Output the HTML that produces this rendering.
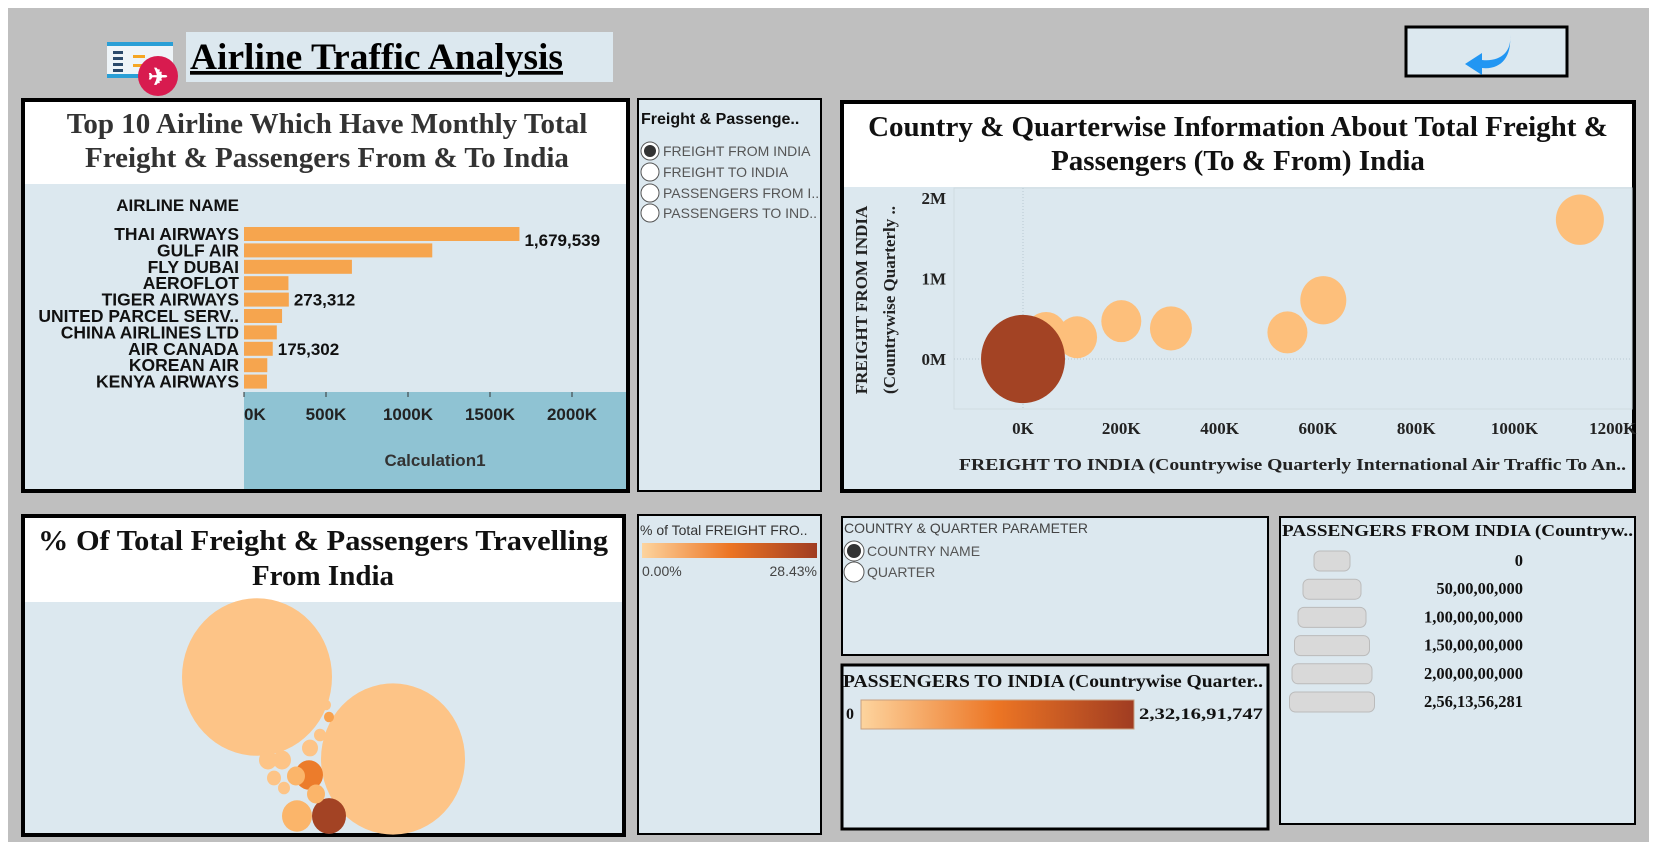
<!DOCTYPE html>
<html><head><meta charset="utf-8"><style>
html,body{margin:0;padding:0;background:#fff;}
svg{display:block;}
text{font-family:"Liberation Sans",sans-serif;}
.serif{font-family:"Liberation Serif",serif;}
</style></head><body>
<svg id="page" width="1657" height="851" viewBox="0 0 1657 851" xmlns="http://www.w3.org/2000/svg">
<rect x="8" y="8" width="1641" height="834" fill="#bfbfbf"/>

<!-- header -->
<g>
<rect x="107" y="42" width="66" height="36" fill="#eef4f8"/>
<rect x="107" y="42" width="66" height="4" fill="#2a9fd6"/>
<rect x="107" y="74" width="66" height="4" fill="#2a9fd6"/>
<rect x="113" y="51" width="10" height="3" fill="#2b4a6b"/><rect x="113" y="57" width="10" height="3" fill="#2b4a6b"/><rect x="113" y="63" width="10" height="3" fill="#2b4a6b"/><rect x="113" y="69" width="10" height="3" fill="#2b4a6b"/>
<rect x="133" y="55" width="12" height="3" fill="#f5a623"/><rect x="133" y="64" width="12" height="3" fill="#f5a623"/>
<circle cx="158" cy="76" r="20" fill="#d81b4f"/>
<text x="158" y="85" text-anchor="middle" font-size="24" fill="#fff" font-weight="bold">✈</text>
</g>
<rect x="186" y="32" width="427" height="50" fill="#dce8ef"/>
<text x="190" y="69" class="serif" font-size="37" font-weight="bold" text-decoration="underline" fill="#000" textLength="373" lengthAdjust="spacingAndGlyphs">Airline Traffic Analysis</text>
<g>
<rect x="1406" y="27" width="161" height="49" fill="#dce8ef" stroke="#000" stroke-width="3"/>
<path d="M1510 35 C1512 52 1500 62 1482 60 L1482 53 L1465 64 L1482 75 L1482 68 C1500 70 1512 58 1510 35 Z" fill="#2196f3"/>
</g>

<!-- Panel 1 -->
<g>
<rect x="23" y="100" width="605" height="391" fill="#dce8ef" stroke="#000" stroke-width="4"/>
<rect x="25" y="102" width="601" height="82" fill="#fff"/>
<text x="327" y="133" text-anchor="middle" class="serif" font-size="29" font-weight="bold" fill="#333">Top 10 Airline Which Have Monthly Total</text>
<text x="327" y="167" text-anchor="middle" class="serif" font-size="29" font-weight="bold" fill="#333">Freight &amp; Passengers From &amp; To India</text>
<rect x="244" y="392" width="382" height="97" fill="#8fc3d3"/>
<text x="239" y="211" text-anchor="end" font-size="17" font-weight="bold" fill="#111">AIRLINE NAME</text>
<text x="435" y="466" text-anchor="middle" font-size="17" font-weight="bold" fill="#333">Calculation1</text>
<g id="bars"></g>
</g>

<!-- Panel 2 filter -->
<g>
<rect x="638" y="99" width="183" height="392" fill="#dce8ef" stroke="#000" stroke-width="2"/>
<text x="641" y="124" font-size="16" font-weight="bold" fill="#111">Freight &amp; Passenge..</text>
<g><circle cx="650" cy="151" r="9" fill="#fff" stroke="#555"/><circle cx="650" cy="151" r="6" fill="#333"/><text x="663" y="156" font-size="14" fill="#555">FREIGHT FROM INDIA</text></g>
<g><circle cx="650" cy="172" r="9" fill="#fff" stroke="#555"/><text x="663" y="177" font-size="14" fill="#555">FREIGHT TO INDIA</text></g>
<g><circle cx="650" cy="193" r="9" fill="#fff" stroke="#555"/><text x="663" y="198" font-size="14" fill="#555">PASSENGERS FROM I..</text></g>
<g><circle cx="650" cy="213" r="9" fill="#fff" stroke="#555"/><text x="663" y="218" font-size="14" fill="#555">PASSENGERS TO IND..</text></g>
</g>

<!-- Panel 3 scatter -->
<g>
<rect x="842" y="102" width="792" height="389" fill="#dce8ef" stroke="#000" stroke-width="4"/>
<rect x="844" y="104" width="788" height="83" fill="#fff"/>
<text x="1238" y="136" text-anchor="middle" class="serif" font-size="29" font-weight="bold" fill="#111">Country &amp; Quarterwise Information About Total Freight &amp;</text>
<text x="1238" y="170" text-anchor="middle" class="serif" font-size="29" font-weight="bold" fill="#111">Passengers (To &amp; From) India</text>
<rect x="954" y="188" width="678" height="221" fill="#dce8ef" stroke="#cfdbe2" stroke-width="1"/>
<text transform="translate(867,300) rotate(-90)" text-anchor="middle" class="serif" font-size="17" font-weight="bold" fill="#222">FREIGHT FROM INDIA</text>
<text transform="translate(895,300) rotate(-90)" text-anchor="middle" class="serif" font-size="17" font-weight="bold" fill="#222">(Countrywise Quarterly ..</text>
<text x="959" y="470" class="serif" font-size="17" font-weight="bold" fill="#222" textLength="667" lengthAdjust="spacingAndGlyphs">FREIGHT TO INDIA (Countrywise Quarterly International Air Traffic To An..</text>
<g id="scatter"></g>
</g>

<!-- Panel 4 packed bubbles -->
<g>
<rect x="23" y="516" width="601" height="319" fill="#dce8ef" stroke="#000" stroke-width="4"/>
<rect x="25" y="518" width="597" height="84" fill="#fff"/>
<text x="323" y="550" text-anchor="middle" class="serif" font-size="29" font-weight="bold" fill="#111" textLength="570" lengthAdjust="spacingAndGlyphs">% Of Total Freight &amp; Passengers Travelling</text>
<text x="323" y="585" text-anchor="middle" class="serif" font-size="29" font-weight="bold" fill="#111">From India</text>
<g id="bubbles"></g>
</g>

<!-- Panel 5 color legend -->
<g>
<defs><linearGradient id="g1" x1="0" x2="1"><stop offset="0" stop-color="#fdd49e"/><stop offset="0.5" stop-color="#ec7524"/><stop offset="1" stop-color="#a03c22"/></linearGradient></defs>
<rect x="638" y="515" width="183" height="319" fill="#dce8ef" stroke="#000" stroke-width="2"/>
<text x="640" y="535" font-size="14" fill="#333">% of Total FREIGHT FRO..</text>
<rect x="642" y="543" width="175" height="15" fill="url(#g1)"/>
<text x="642" y="576" font-size="14" fill="#444">0.00%</text>
<text x="817" y="576" font-size="14" fill="#444" text-anchor="end">28.43%</text>
</g>

<!-- Panel 6 parameter -->
<g>
<rect x="842" y="517" width="426" height="138" fill="#dce8ef" stroke="#000" stroke-width="2"/>
<text x="844" y="533" font-size="14" fill="#444">COUNTRY &amp; QUARTER PARAMETER</text>
<g><circle cx="854" cy="551" r="10" fill="#fff" stroke="#555"/><circle cx="854" cy="551" r="7" fill="#333"/><text x="867" y="556" font-size="14" fill="#555">COUNTRY NAME</text></g>
<g><circle cx="854" cy="572" r="10" fill="#fff" stroke="#555"/><text x="867" y="577" font-size="14" fill="#555">QUARTER</text></g>
</g>

<!-- Panel 7 -->
<g>
<rect x="842" y="665" width="426" height="164" fill="#dce8ef" stroke="#000" stroke-width="3"/>
<text x="843" y="687" class="serif" font-size="18" font-weight="bold" fill="#111" textLength="420" lengthAdjust="spacingAndGlyphs">PASSENGERS TO INDIA (Countrywise Quarter..</text>
<text x="846" y="719" class="serif" font-size="16" font-weight="bold" fill="#111">0</text>
<rect x="861" y="700" width="273" height="29" fill="url(#g1)" stroke="#c8a080"/>
<text x="1139" y="719" class="serif" font-size="16" font-weight="bold" fill="#111" textLength="124" lengthAdjust="spacingAndGlyphs">2,32,16,91,747</text>
</g>

<!-- Panel 8 size legend -->
<g>
<rect x="1280" y="517" width="355" height="307" fill="#dce8ef" stroke="#000" stroke-width="2"/>
<text x="1282" y="536" class="serif" font-size="17" font-weight="bold" fill="#111" textLength="351" lengthAdjust="spacingAndGlyphs">PASSENGERS FROM INDIA (Countryw..</text>
<g id="sizeleg"></g>
</g>
</svg>
<script>
const NS='http://www.w3.org/2000/svg';
function mk(tag,attrs,parent,txt){const e=document.createElementNS(NS,tag);for(const k in attrs)e.setAttribute(k,attrs[k]);if(txt!==undefined)e.textContent=txt;parent.appendChild(e);return e;}

// ---- bar chart data
const airlines=['THAI AIRWAYS','GULF AIR','FLY DUBAI','AEROFLOT','TIGER AIRWAYS','UNITED PARCEL SERV..','CHINA AIRLINES LTD','AIR CANADA','KOREAN AIR','KENYA AIRWAYS'];
const airlineValues=[1679539,1148000,658000,271000,273312,232000,200000,175302,142000,140000];
const labelledValues=['1,679,539','','','','273,312','','','175,302','',''];
const barTicks=[0,500000,1000000,1500000,2000000];
const barTickLabels=['0K','500K','1000K','1500K','2000K'];
const bx=v=>244+v*(328/2000000);
const by=i=>234+i*16.4;
const bars=document.getElementById('bars');
airlines.forEach((n,i)=>{
  const t=mk('text',{x:239,y:by(i)+6,'text-anchor':'end','font-size':17.5,'font-weight':'bold',fill:'#111'},bars,n);
  
  
  const r=mk('rect',{x:bx(0),y:by(i)-7,width:bx(airlineValues[i])-bx(0),height:14,fill:'#f6a54e'},bars);
  
  
  if(labelledValues[i]){
    const dy=i===0?12:6;
    const l=mk('text',{x:bx(airlineValues[i])+5,y:by(i)+dy,'font-size':17,'font-weight':'bold',fill:'#111'},bars,labelledValues[i]);
    
    
  }
});
barTicks.forEach((v,i)=>{
  mk('line',{x1:bx(v),x2:bx(v),y1:392,y2:397,stroke:'#333'},bars);
  const t=mk('text',{x:bx(v),y:420,'text-anchor':i===0?'start':'middle','font-size':17,'font-weight':'bold',fill:'#222'},bars,barTickLabels[i]);
  
  
});

// ---- scatter data
const freightTo=[0,47000,110000,200000,301000,538000,611000,1133000];
const freightFrom=[0,310000,270000,470000,380000,330000,730000,1730000];
const bubbleRadius=[42,21,20,20,21,20,23,24];
const bubbleColors=['#a34324','#fdbf7b','#fdbf7b','#fdbf7b','#fdbf7b','#fdbf7b','#fdbf7b','#fdbf7b'];
const xTicks=[0,200000,400000,600000,800000,1000000,1200000];
const xTickLabels=['0K','200K','400K','600K','800K','1000K','1200K'];
const yTicks=[0,1000000,2000000];
const yTickLabels=['0M','1M','2M'];
const sx=v=>1023+v*0.0004915;
const sy=v=>359-v*0.0000805;
const sc=document.getElementById('scatter');
mk('line',{x1:954,x2:1632,y1:sy(0),y2:sy(0),stroke:'#b8c8d2','stroke-dasharray':'1,2'},sc);
mk('line',{x1:sx(0),x2:sx(0),y1:188,y2:409,stroke:'#b8c8d2','stroke-dasharray':'1,2'},sc);
xTicks.forEach((v,i)=>{const t=mk('text',{x:sx(v),y:434,'text-anchor':'middle','font-size':17,'font-weight':'bold',fill:'#222',class:'serif'},sc,xTickLabels[i]);
  
  });
yTicks.forEach((v,i)=>{const t=mk('text',{x:946,y:sy(v)+6,'text-anchor':'end','font-size':17,'font-weight':'bold',fill:'#222',class:'serif'},sc,yTickLabels[i]);
  
  });
[1,2,3,4,5,6,7,0].forEach(i=>{
  const c=mk('ellipse',{cx:sx(freightTo[i]),cy:sy(freightFrom[i]),rx:bubbleRadius[i],ry:bubbleRadius[i]*1.05,fill:bubbleColors[i]},sc);
  
  
});

// ---- packed bubbles (percent share)
const shareValues=[28.43,26.1,1.2,0.9,0.4,0.35,0.3,0.25,0.25,0.2,0.15,0.15,0.1,0.1,0.1];
const shareCx=[257,393,329,309,297,316,268,282,296,310,274,320,284,329,326];
const shareCy=[677,759,816,775,816,794,760,760,776,748,778,735,788,717,705];
const shareR=[75,72,17,14,15,9,9,9,9,8,7,6,6,5,5];
const shareColors=['#fdc487','#fdc487','#a34324','#ec7c2b','#fbb56a','#fbb56a','#fdc487','#fdc487','#fbb56a','#fdc487','#fdc487','#fdc487','#fdc487','#f8a24f','#fdc487'];
const bb=document.getElementById('bubbles');
shareValues.forEach((v,i)=>{
  const c=mk('ellipse',{cx:shareCx[i],cy:shareCy[i],rx:shareR[i],ry:shareR[i]*1.05,fill:shareColors[i]},bb);
  
  
});

// ---- size legend
const sizeLabels=['0','50,00,00,000','1,00,00,00,000','1,50,00,00,000','2,00,00,00,000','2,56,13,56,281'];
const sizeWidths=[36,58,68,75,80,85];
const sl=document.getElementById('sizeleg');
sizeLabels.forEach((l,i)=>{
  const y=561+i*28.2;
  const r=mk('rect',{x:1332-sizeWidths[i]/2,y:y-10,width:sizeWidths[i],height:20,rx:6,fill:'#d9d9d9',stroke:'#bbb'},sl);
  
  
  const t=mk('text',{x:1523,y:y+5,'text-anchor':'end','font-size':16.5,'font-weight':'bold',fill:'#111',class:'serif'},sl,l);
  
  
});
</script>
</body></html>
